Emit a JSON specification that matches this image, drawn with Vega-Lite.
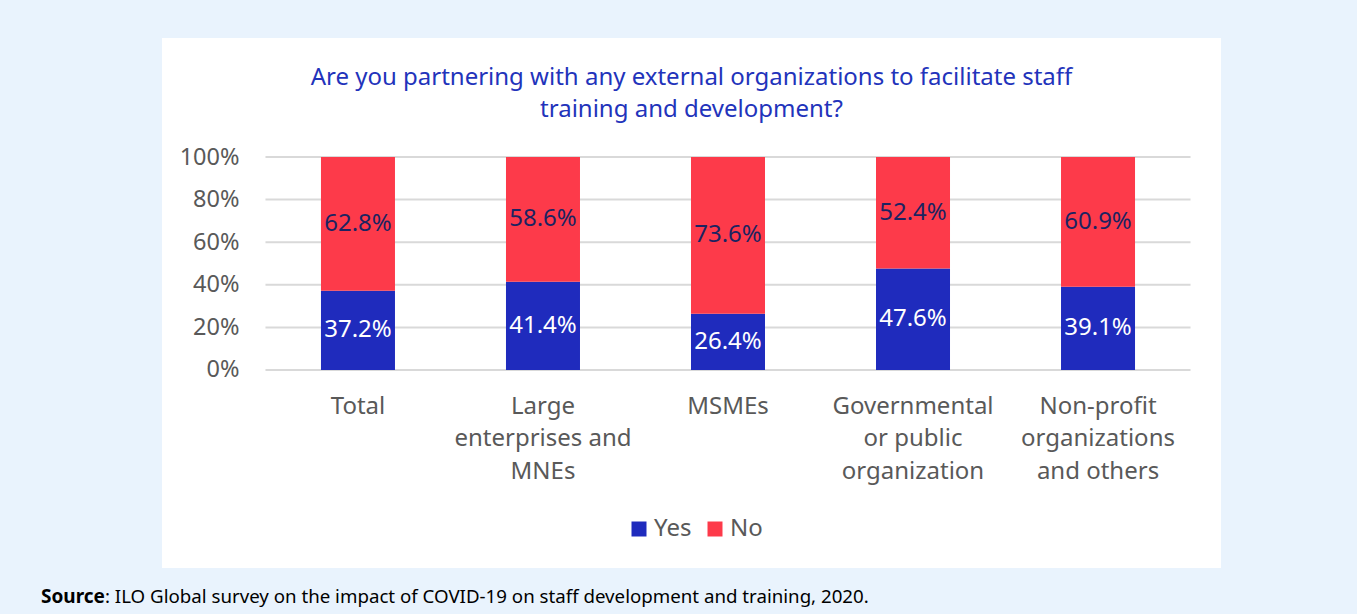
{
  "$schema": "https://vega.github.io/schema/vega-lite/v6.json",
  "width": 1059,
  "height": 530,
  "autosize": {"type": "none"},
  "padding": {"left": 162, "top": 38, "right": 136, "bottom": 46},
  "background": "#e9f3fd",
  "config": {
    "view": {"fill": "white", "stroke": null},
    "font": "Noto Sans"
  },
  "title": {
    "text": ["Are you partnering with any external organizations to facilitate staff", "training and development?"],
    "color": "#2233bb",
    "fontSize": 24,
    "fontWeight": "normal",
    "anchor": "middle",
    "lineHeight": 32,
    "offset": -84
  },
  "data": {
    "values": [
      {"group": "Total", "answer": "Yes", "share": 0.372},
      {"group": "Total", "answer": "No", "share": 0.628},
      {"group": "Large enterprises and MNEs", "answer": "Yes", "share": 0.414},
      {"group": "Large enterprises and MNEs", "answer": "No", "share": 0.586},
      {"group": "MSMEs", "answer": "Yes", "share": 0.264},
      {"group": "MSMEs", "answer": "No", "share": 0.736},
      {"group": "Governmental or public organization", "answer": "Yes", "share": 0.476},
      {"group": "Governmental or public organization", "answer": "No", "share": 0.524},
      {"group": "Non-profit organizations and others", "answer": "Yes", "share": 0.391},
      {"group": "Non-profit organizations and others", "answer": "No", "share": 0.609}
    ]
  },
  "layer": [
    {
      "data": {"values": [{"tick": 0}, {"tick": 0.2}, {"tick": 0.4}, {"tick": 0.6}, {"tick": 0.8}, {"tick": 1}]},
      "mark": {"type": "rule", "color": "#d9d9d9", "strokeWidth": 2},
      "encoding": {
        "x": {"datum": "Total", "bandPosition": -0.75},
        "x2": {"datum": "Non-profit organizations and others", "bandPosition": 1.75},
        "y": {"field": "tick", "type": "quantitative"}
      }
    },
    {
      "mark": {"type": "bar"},
      "encoding": {
        "x": {
          "field": "group",
          "type": "nominal",
          "sort": null,
          "scale": {
            "domain": ["Total", "Large enterprises and MNEs", "MSMEs", "Governmental or public organization", "Non-profit organizations and others"],
            "paddingInner": 0.6,
            "paddingOuter": 0.662,
            "align": 0.649
          },
          "axis": {
            "title": null,
            "labelAngle": 0,
            "domain": false,
            "ticks": false,
            "bandPosition": 0.5,
            "labelAlign": "center",
            "labelFontSize": 24,
            "labelColor": "#595959",
            "labelLineHeight": 32.5,
            "labelBaseline": "top",
            "labelPadding": 0,
            "offset": -174,
            "labelExpr": "datum.value == 'Large enterprises and MNEs' ? ['Large', 'enterprises and', 'MNEs'] : datum.value == 'Governmental or public organization' ? ['Governmental', 'or public', 'organization'] : datum.value == 'Non-profit organizations and others' ? ['Non-profit', 'organizations', 'and others'] : datum.value"
          }
        },
        "y": {
          "field": "share",
          "type": "quantitative",
          "stack": "zero",
          "scale": {"domain": [-0.9296, 1.5587], "nice": false, "zero": false},
          "axis": {
            "title": null,
            "values": [0, 0.2, 0.4, 0.6, 0.8, 1],
            "format": ".0%",
            "grid": false,
            "domain": false,
            "ticks": false,
            "labelFontSize": 23.5,
            "labelColor": "#595959",
            "labelPadding": 2,
            "offset": -79
          }
        },
        "order": {"field": "answer", "sort": "descending"},
        "color": {
          "field": "answer",
          "type": "nominal",
          "scale": {"domain": ["Yes", "No"], "range": ["#1f2bbd", "#fd3a4a"]},
          "legend": {
            "title": null,
            "orient": "none",
            "legendX": 465,
            "legendY": 479,
            "direction": "horizontal",
            "symbolType": "square",
            "symbolSize": 225,
            "symbolStrokeWidth": 0,
            "labelFontSize": 24,
            "labelColor": "#595959",
            "labelOffset": 3,
            "columnPadding": 11
          }
        }
      }
    },
    {
      "mark": {"type": "text", "fontSize": 24, "baseline": "middle"},
      "encoding": {
        "x": {"field": "group", "type": "nominal"},
        "y": {"field": "share", "type": "quantitative", "stack": "zero", "bandPosition": 0.5},
        "detail": {"field": "answer"},
        "order": {"field": "answer", "sort": "descending"},
        "text": {"field": "share", "type": "quantitative", "format": ".1%"},
        "color": {"condition": {"test": "datum.answer == 'Yes'", "value": "white"}, "value": "#1b2361"}
      }
    },
    {
      "data": {"values": [{"part": "Source"}]},
      "mark": {"type": "text", "fontSize": 19, "fontWeight": "bold", "align": "left", "baseline": "middle", "color": "black", "dx": -280},
      "encoding": {
        "x": {"datum": "Total", "bandPosition": 0},
        "y": {"datum": -1.0657},
        "text": {"field": "part"}
      }
    },
    {
      "data": {"values": [{"part": ": ILO Global survey on the impact of COVID-19 on staff development and training, 2020."}]},
      "mark": {"type": "text", "fontSize": 18.7, "align": "left", "baseline": "middle", "color": "black", "dx": -216},
      "encoding": {
        "x": {"datum": "Total", "bandPosition": 0},
        "y": {"datum": -1.0657},
        "text": {"field": "part"}
      }
    }
  ]
}
